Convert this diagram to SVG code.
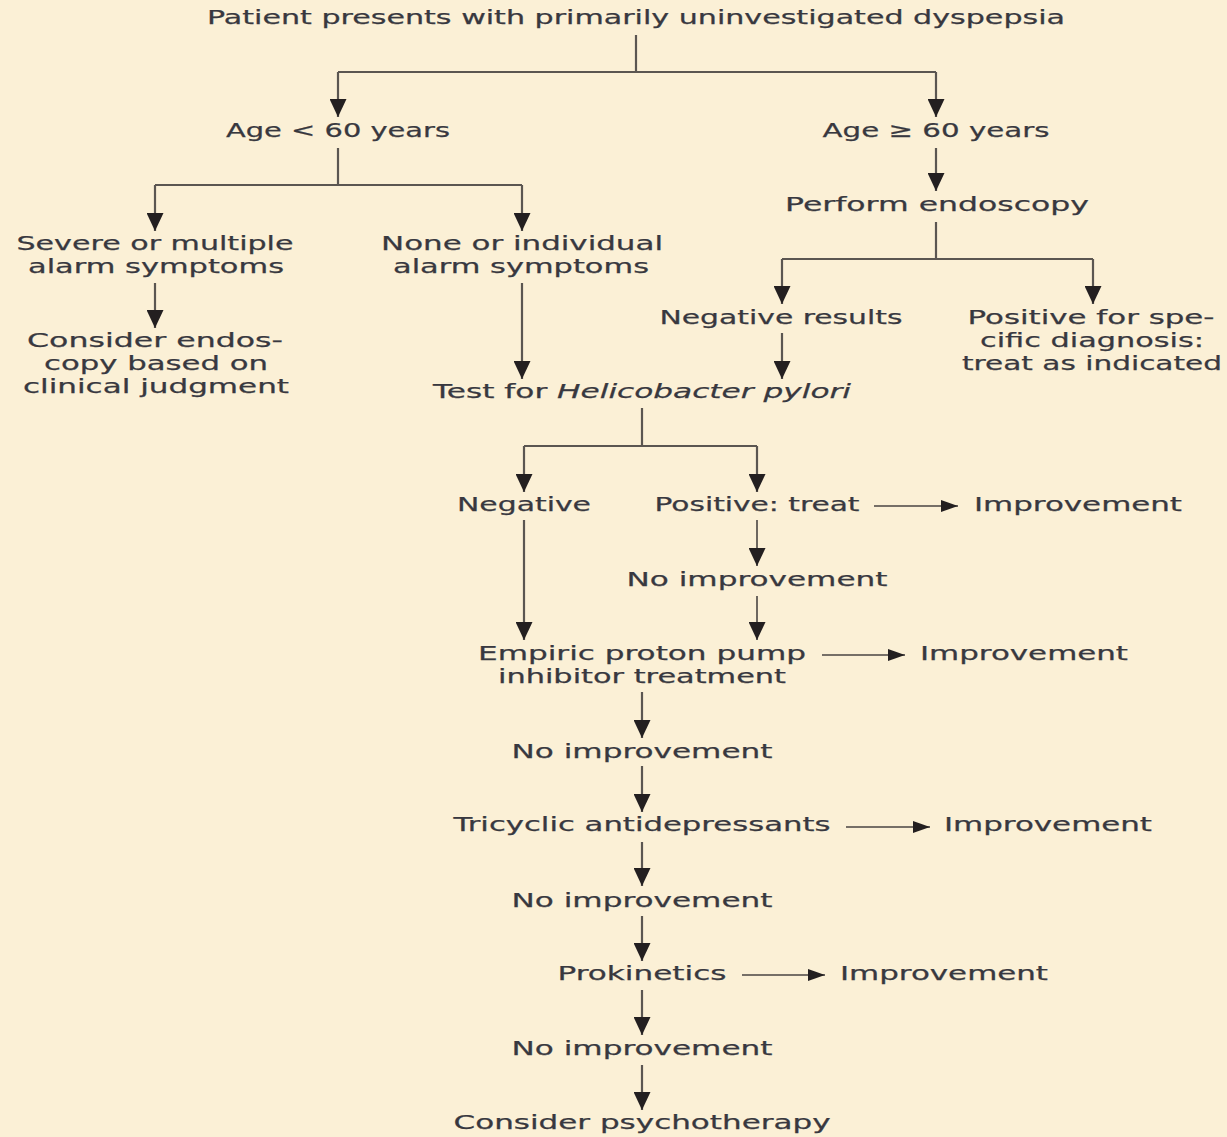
<svg xmlns="http://www.w3.org/2000/svg" width="1227" height="1137" viewBox="0 0 1227 1137">
<defs>
<style>
text{font-family:"DejaVu Sans","Liberation Sans",sans-serif;font-size:20px;fill:#38383f;text-anchor:middle;stroke:#38383f;stroke-width:0.25}
.c{fill:none;stroke:#5b5651;stroke-width:2.2}
.h{fill:none;stroke:#4a4542;stroke-width:1.6}
</style>
<marker id="a" viewBox="0 0 10 10" refX="10" refY="5" markerWidth="18" markerHeight="17" markerUnits="userSpaceOnUse" orient="auto" preserveAspectRatio="none">
<path d="M0,0 L10,5 L0,10 Z" fill="#231f20"/>
</marker>
<marker id="b" viewBox="0 0 10 10" refX="10" refY="5" markerWidth="17" markerHeight="12" markerUnits="userSpaceOnUse" orient="auto" preserveAspectRatio="none">
<path d="M0,0 L10,5 L0,10 Z" fill="#231f20"/>
</marker>
</defs>
<rect width="1227" height="1137" fill="#fbf0d6"/>
<g id="connectors">
<path class="c" d="M636,35 V72"/>
<path class="c" d="M338,72 H936"/>
<path class="c" d="M338,72 V117" marker-end="url(#a)"/>
<path class="c" d="M936,72 V117" marker-end="url(#a)"/>
<path class="c" d="M338,148 V185"/>
<path class="c" d="M155,185 H522"/>
<path class="c" d="M155,185 V231" marker-end="url(#a)"/>
<path class="c" d="M522,185 V231" marker-end="url(#a)"/>
<path class="c" d="M936,148 V191" marker-end="url(#a)"/>
<path class="c" d="M936,222 V259"/>
<path class="c" d="M782,259 H1093"/>
<path class="c" d="M782,259 V304" marker-end="url(#a)"/>
<path class="c" d="M1093,259 V304" marker-end="url(#a)"/>
<path class="c" d="M155,283 V328" marker-end="url(#a)"/>
<path class="c" d="M522,283 V379" marker-end="url(#a)"/>
<path class="c" d="M782,333 V379" marker-end="url(#a)"/>
<path class="c" d="M642,408 V446"/>
<path class="c" d="M524,446 H757"/>
<path class="c" d="M524,446 V492" marker-end="url(#a)"/>
<path class="c" d="M757,446 V492" marker-end="url(#a)"/>
<path class="c" d="M524,520 V640" marker-end="url(#a)"/>
<path class="h" d="M874,506 H958" marker-end="url(#b)"/>
<path class="h" d="M757,520 V566" marker-end="url(#a)"/>
<path class="h" d="M757,596 V640" marker-end="url(#a)"/>
<path class="h" d="M822,655 H905" marker-end="url(#b)"/>
<path class="c" d="M642,692 V738" marker-end="url(#a)"/>
<path class="c" d="M642,766 V812" marker-end="url(#a)"/>
<path class="h" d="M846,827 H930" marker-end="url(#b)"/>
<path class="c" d="M642,842 V886" marker-end="url(#a)"/>
<path class="c" d="M642,916 V961" marker-end="url(#a)"/>
<path class="h" d="M742,975 H825" marker-end="url(#b)"/>
<path class="c" d="M642,990 V1035" marker-end="url(#a)"/>
<path class="c" d="M642,1065 V1110" marker-end="url(#a)"/>
</g>
<g id="n-start"><text x="636" y="24" textLength="858" lengthAdjust="spacingAndGlyphs">Patient presents with primarily uninvestigated dyspepsia</text></g>
<g id="n-age-lt"><text x="338" y="137" textLength="224" lengthAdjust="spacingAndGlyphs">Age &lt; 60 years</text></g>
<g id="n-age-ge"><text x="936" y="137" textLength="227" lengthAdjust="spacingAndGlyphs">Age ≥ 60 years</text></g>
<g id="n-endo"><text x="937" y="211" textLength="304" lengthAdjust="spacingAndGlyphs">Perform endoscopy</text></g>
<g id="n-severe"><text x="155" y="250" textLength="277" lengthAdjust="spacingAndGlyphs">Severe or multiple</text><text x="156" y="273" textLength="256" lengthAdjust="spacingAndGlyphs">alarm symptoms</text></g>
<g id="n-none"><text x="522" y="250" textLength="282" lengthAdjust="spacingAndGlyphs">None or individual</text><text x="521" y="273" textLength="256" lengthAdjust="spacingAndGlyphs">alarm symptoms</text></g>
<g id="n-consider-endo"><text x="155" y="347" textLength="256" lengthAdjust="spacingAndGlyphs">Consider endos-</text><text x="156" y="370" textLength="224" lengthAdjust="spacingAndGlyphs">copy based on</text><text x="156" y="393" textLength="266" lengthAdjust="spacingAndGlyphs">clinical judgment</text></g>
<g id="n-neg-results"><text x="781" y="324" textLength="243" lengthAdjust="spacingAndGlyphs">Negative results</text></g>
<g id="n-positive-dx"><text x="1091" y="324" textLength="247" lengthAdjust="spacingAndGlyphs">Positive for spe-</text><text x="1092" y="347" textLength="224" lengthAdjust="spacingAndGlyphs">cific diagnosis:</text><text x="1092" y="370" textLength="260" lengthAdjust="spacingAndGlyphs">treat as indicated</text></g>
<g id="n-test-hp"><text x="642" y="398" textLength="418" lengthAdjust="spacingAndGlyphs">Test for <tspan font-style="italic">Helicobacter pylori</tspan></text></g>
<g id="n-negative"><text x="524" y="511" textLength="134" lengthAdjust="spacingAndGlyphs">Negative</text></g>
<g id="n-positive"><text x="757" y="511" textLength="205" lengthAdjust="spacingAndGlyphs">Positive: treat</text></g>
<g id="n-imp1"><text x="1078" y="511" textLength="208" lengthAdjust="spacingAndGlyphs">Improvement</text></g>
<g id="n-noimp1"><text x="757" y="586" textLength="261" lengthAdjust="spacingAndGlyphs">No improvement</text></g>
<g id="n-ppi"><text x="642" y="660" textLength="328" lengthAdjust="spacingAndGlyphs">Empiric proton pump</text><text x="642" y="683" textLength="288" lengthAdjust="spacingAndGlyphs">inhibitor treatment</text></g>
<g id="n-imp2"><text x="1024" y="660" textLength="208" lengthAdjust="spacingAndGlyphs">Improvement</text></g>
<g id="n-noimp2"><text x="642" y="758" textLength="261" lengthAdjust="spacingAndGlyphs">No improvement</text></g>
<g id="n-tca"><text x="642" y="831" textLength="377" lengthAdjust="spacingAndGlyphs">Tricyclic antidepressants</text></g>
<g id="n-imp3"><text x="1048" y="831" textLength="208" lengthAdjust="spacingAndGlyphs">Improvement</text></g>
<g id="n-noimp3"><text x="642" y="907" textLength="261" lengthAdjust="spacingAndGlyphs">No improvement</text></g>
<g id="n-prok"><text x="642" y="980" textLength="169" lengthAdjust="spacingAndGlyphs">Prokinetics</text></g>
<g id="n-imp4"><text x="944" y="980" textLength="208" lengthAdjust="spacingAndGlyphs">Improvement</text></g>
<g id="n-noimp4"><text x="642" y="1055" textLength="261" lengthAdjust="spacingAndGlyphs">No improvement</text></g>
<g id="n-psycho"><text x="642" y="1129" textLength="377" lengthAdjust="spacingAndGlyphs">Consider psychotherapy</text></g>
</svg>
